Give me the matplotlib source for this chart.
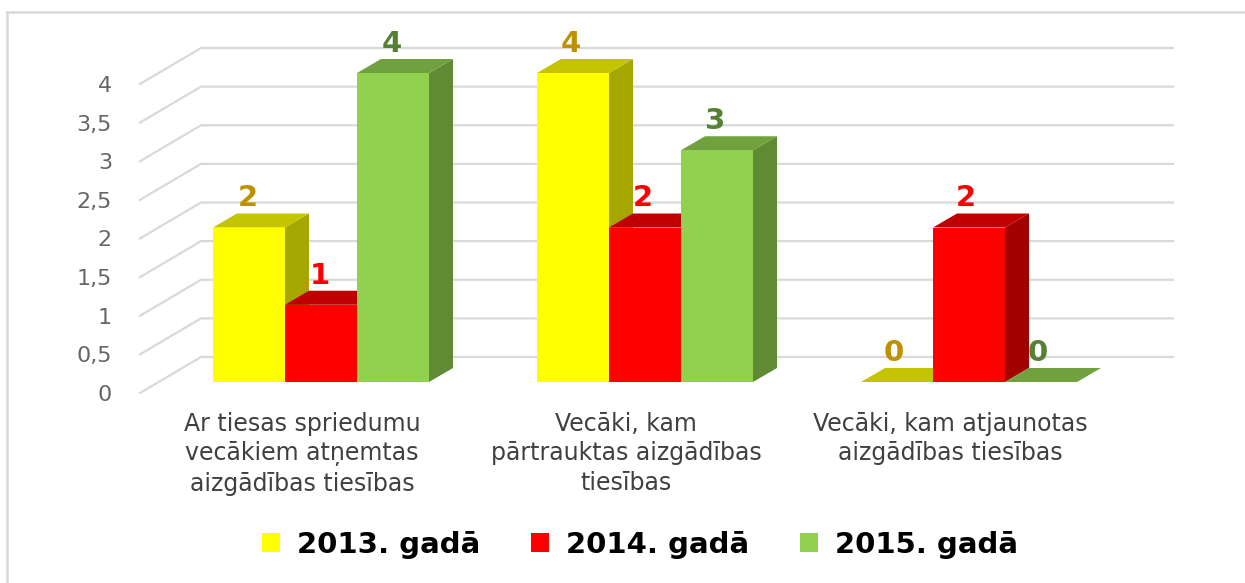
import matplotlib
matplotlib.use("Agg")
import matplotlib.pyplot as plt
from matplotlib.patches import Polygon, Rectangle, Patch

categories = ["Ar tiesas spriedumu\nvecākiem atņemtas\naizgādības tiesības",
              "Vecāki, kam\npārtrauktas aizgādības\ntiesības",
              "Vecāki, kam atjaunotas\naizgādības tiesības"]
series_names = ["2013. gadā", "2014. gadā", "2015. gadā"]
values_2013 = [2, 4, 0]
values_2014 = [1, 2, 2]
values_2015 = [4, 3, 0]
y_ticks = [0, 0.5, 1, 1.5, 2, 2.5, 3, 3.5, 4]
y_tick_labels = ["0", "0,5", "1", "1,5", "2", "2,5", "3", "3,5", "4"]

front_cols = ["#FFFF00", "#FF0000", "#92D050"]
top_cols = ["#C4C400", "#C00000", "#71A03E"]
side_cols = ["#A6A600", "#A30000", "#608A33"]
label_cols = ["#BF9000", "#FF0000", "#548235"]

W, H = 1245, 583
GROUP_PX, UNIT_PX, X0_PX, Y0_PX = 324.0, 77.25, 321.0, 382.0
px_x = lambda p: p / GROUP_PX
px_y = lambda p: p / UNIT_PX

fig = plt.figure(figsize=(W / 100, H / 100), dpi=100, facecolor="white")
ax = fig.add_axes([0, 0, 1, 1])
ax.set_xlim(-X0_PX / GROUP_PX, (W - X0_PX) / GROUP_PX)
ax.set_ylim(-(H - Y0_PX) / UNIT_PX, Y0_PX / UNIT_PX)
ax.axis("off")

FONT = "DejaVu Sans"

# chart frame
frame_x, frame_y = -X0_PX / GROUP_PX + px_x(7), Y0_PX / UNIT_PX - px_y(12)
ax.plot([frame_x, frame_x], [ax.get_ylim()[0], frame_y], color="#D9D9D9", lw=1.8)
ax.plot([frame_x, ax.get_xlim()[1]], [frame_y, frame_y], color="#D9D9D9", lw=1.8)

# gridlines: on side wall and back wall
x_front = px_x(140 - X0_PX)
x_back = px_x(201 - X0_PX)
x_right = px_x(1173 - X0_PX)
dy_front = px_y(-11)
dy_back = px_y(25)
for v, lab in zip(y_ticks, y_tick_labels):
    ax.plot([x_front, x_back, x_right], [v + dy_front, v + dy_back, v + dy_back],
            color="#D9D9D9", lw=1.6, solid_joinstyle="miter", zorder=1)
    ax.text(px_x(112 - X0_PX), v + dy_front - px_y(2), lab, ha="right", va="center",
            fontsize=16, color="#666666", family=FONT, zorder=5)

# bars with oblique depth
bw = 72 / GROUP_PX
ddx = px_x(24)
ddy = px_y(14)
all_series = [values_2013, values_2014, values_2015]
z = 3.0
for c in range(len(categories)):
    for s, vals in enumerate(all_series):
        v = vals[c]
        x0 = c + (s - 1.5) * bw
        x1 = x0 + bw
        ax.add_patch(Polygon([(x1, 0), (x1 + ddx, ddy), (x1 + ddx, v + ddy), (x1, v)],
                             fc=side_cols[s], ec="none", zorder=z))
        ax.add_patch(Polygon([(x0, v), (x1, v), (x1 + ddx, v + ddy), (x0 + ddx, v + ddy)],
                             fc=top_cols[s], ec="none", zorder=z))
        ax.add_patch(Rectangle((x0, 0), bw, v, fc=front_cols[s], ec="none", zorder=z))
        z += 0.01
        ax.text((x0 + x1) / 2 - px_x(1 + 1.3 * c), v + px_y(29), str(v), ha="center", va="center",
                fontsize=21, fontweight="bold", color=label_cols[s], family=FONT, zorder=6)

# category labels
for c, lab in enumerate(categories):
    ax.text(c - px_x(19), px_y(Y0_PX - 412), lab, ha="center", va="top",
            fontsize=17, color="#404040", family=FONT, linespacing=1.28, zorder=5)

# legend
handles = [Patch(fc=col, ec="none") for col in front_cols]
leg = fig.legend(handles, series_names, loc="center", bbox_to_anchor=(640 / W, 1 - 545 / H),
                 ncol=3, frameon=False, handlelength=0.62, handleheight=0.62,
                 handletextpad=0.58, columnspacing=1.75, borderpad=0, borderaxespad=0,
                 prop={"family": FONT, "weight": "bold", "size": 21})
for t in leg.get_texts():
    t.set_color("#000000")

fig.savefig("out.png", dpi=100)
